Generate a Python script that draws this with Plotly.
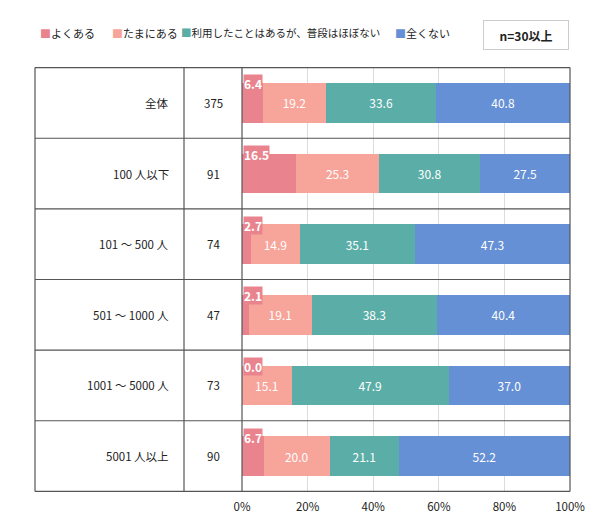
import plotly.graph_objects as go

# 企業規模別の利用頻度 (%)
groups = ["全体", "100 人以下", "101 ～ 500 人", "501 ～ 1000 人", "1001 ～ 5000 人", "5001 人以上"]
n_counts = [375, 91, 74, 47, 73, 90]
series_names = ["よくある", "たまにある", "利用したことはあるが、普段はほぼない", "全くない"]
often = [6.4, 16.5, 2.7, 2.1, 0.0, 6.7]
sometimes = [19.2, 25.3, 14.9, 19.1, 15.1, 20.0]
rarely = [33.6, 30.8, 35.1, 38.3, 47.9, 21.1]
never = [40.8, 27.5, 47.3, 40.4, 37.0, 52.2]
x_ticks = [0, 20, 40, 60, 80, 100]
x_tick_labels = ["0%", "20%", "40%", "60%", "80%", "100%"]

colors = ["#E9848F", "#F7A49A", "#5BADA7", "#6590D5"]
FONT = "Noto Sans CJK JP"

W, H = 590, 525
ML, MR, MT, MB = 242, 20, 67, 33
plot_w = W - ML - MR
plot_h = H - MT - MB


def px_to_paper(sx):
    return (sx - ML) / plot_w


def py_to_paper(sy):
    return (H - MB - sy) / plot_h


fig = go.Figure()
for i, (name, vals) in enumerate(zip(series_names, [often, sometimes, rarely, never])):
    fig.add_trace(go.Bar(
        y=groups, x=vals, name=name, orientation="h",
        marker=dict(color=colors[i], line=dict(width=0)),
        text=[f"{v:.1f}" for v in vals] if i > 0 else None,
        textposition="inside", insidetextanchor="middle",
        textfont=dict(color="white", size=12, family=FONT),
        showlegend=False, hoverinfo="x+name",
    ))

# first-segment labels sit on the bar's top-left corner
for g, v in zip(groups, often):
    fig.add_annotation(x=0, y=g, xref="x", yref="y", text=f"<b>{v:.1f}</b>",
                       xanchor="left", yanchor="middle", yshift=19, xshift=1,
                       showarrow=False, bgcolor=colors[0], borderpad=0,
                       font=dict(color="white", size=12, family=FONT))

# table columns: group label and n
for g, n in zip(groups, n_counts):
    fig.add_annotation(x=px_to_paper(171), y=g, xref="paper", yref="y", text=g,
                       xanchor="right", showarrow=False,
                       font=dict(color="#222", size=11.5, family=FONT))
    fig.add_annotation(x=px_to_paper(213), y=g, xref="paper", yref="y", text=str(n),
                       xanchor="center", showarrow=False,
                       font=dict(color="#222", size=11.5, family=FONT))

line_style = dict(color="#555", width=1.2)
left = px_to_paper(35)
for k in range(len(groups) + 1):
    fig.add_shape(type="line", xref="paper", yref="y", x0=left, x1=1,
                  y0=k - 0.5, y1=k - 0.5, line=line_style)
for xp in [left, px_to_paper(184), 0, 1]:
    fig.add_shape(type="line", xref="paper", yref="y", x0=xp, x1=xp,
                  y0=-0.5, y1=len(groups) - 0.5, line=line_style)

# legend row (x position, anchor, font size)
legend_pos = [(38, "left", 11), (110, "left", 11), (382, "right", 10.5), (393, "left", 11)]
for name, c, (lx, anchor, fs) in zip(series_names, colors, legend_pos):
    fig.add_annotation(x=px_to_paper(lx), y=py_to_paper(33),
                       xref="paper", yref="paper",
                       text=f"<span style='color:{c}'>■</span>{name}",
                       xanchor=anchor, yanchor="middle", showarrow=False,
                       font=dict(color="#222", size=fs, family=FONT))
fig.add_annotation(x=px_to_paper(526), y=py_to_paper(35),
                   xref="paper", yref="paper", text="<b>n=30以上</b>",
                   xanchor="center", yanchor="middle", showarrow=False,
                   width=80, height=24, bordercolor="#ccc", borderwidth=1, borderpad=2,
                   font=dict(color="#222", size=12, family=FONT))

fig.update_layout(
    width=W, height=H, barmode="stack", bargap=0.44,
    margin=dict(l=ML, r=MR, t=MT, b=MB, autoexpand=False),
    paper_bgcolor="white", plot_bgcolor="white",
    font=dict(family=FONT, color="#222"),
    xaxis=dict(range=[0, 100], tickvals=x_ticks, ticktext=x_tick_labels,
               showgrid=True, gridcolor="#dcdcdc", gridwidth=1, zeroline=False,
               automargin=False, ticklabelstandoff=6,
               tickfont=dict(size=11.5, family=FONT, color="#222"), ticks="", fixedrange=True),
    yaxis=dict(autorange="reversed", showticklabels=False, showgrid=False,
               zeroline=False, ticks="", fixedrange=True, automargin=False),
)

# drop the default body margin so the figure fills the window exactly
fig.write_html("out.html", config={"displayModeBar": False},
               post_script="document.body.style.margin='0';")
